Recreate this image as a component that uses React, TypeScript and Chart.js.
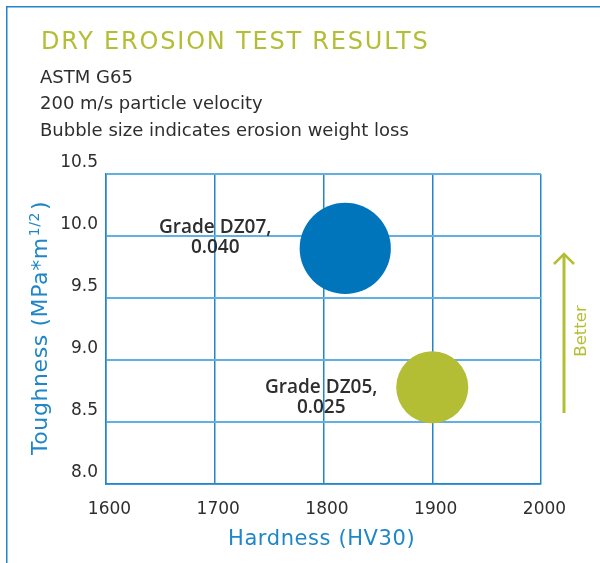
import React, { useEffect, useRef } from "react";
import { Chart, registerables } from "chart.js";

Chart.register(...registerables);

const TITLE = "DRY EROSION TEST RESULTS";
const SUBTITLES = ["ASTM G65", "200 m/s particle velocity", "Bubble size indicates erosion weight loss"];
const GRADES = ["Grade DZ07,", "Grade DZ05,"];
const HARDNESS = [1820, 1900];
const TOUGHNESS = [9.9, 8.78];
const WEIGHT_LOSS = [0.04, 0.025];
const X_TICKS = [1600, 1700, 1800, 1900, 2000];
const Y_TICKS = [8.0, 8.5, 9.0, 9.5, 10.0, 10.5];
const X_TITLE = "Hardness (HV30)";
const Y_TITLE = "Toughness (MPa*m";
const Y_TITLE_SUP = "1/2";
const Y_TITLE_END = ")";
const ARROW_LABEL = "Better";

const GREEN = "#b4be35";
const BLUE = "#0075bc";
const AXIS_BLUE = "#1f86c8";
const DARK = "#2e2e2e";
const GRID_V = "#2585cb";
const GRID_H = "#62b0e2";
const FONT = "'DejaVu Sans', sans-serif";

const BUBBLE_SCALE = 228;
const LABEL_PLACEMENT = [
  { dx: -130, dy: -15.5 },
  { dx: -111, dy: 5.5 },
];

const decorPlugin = {
  id: "decor",
  beforeDraw(chart: any) {
    const ctx = chart.ctx;
    ctx.save();
    ctx.fillStyle = "#2284cc";
    ctx.fillRect(6, 6, 1.5, chart.height - 6);
    ctx.fillRect(6, 6, chart.width - 6, 1.5);

    ctx.textAlign = "left";
    ctx.textBaseline = "alphabetic";
    ctx.fillStyle = GREEN;
    ctx.font = `24px ${FONT}`;
    (ctx as any).letterSpacing = "1.8px";
    ctx.fillText(TITLE, 41, 49.3);
    (ctx as any).letterSpacing = "0px";

    ctx.fillStyle = DARK;
    ctx.font = `18px ${FONT}`;
    SUBTITLES.forEach((s, i) => ctx.fillText(s, 40, 82.5 + i * 26.5));

    // x title
    ctx.fillStyle = AXIS_BLUE;
    ctx.font = `21px ${FONT}`;
    (ctx as any).letterSpacing = "0.6px";
    ctx.fillText(X_TITLE, 228, 545);

    // y title
    ctx.save();
    ctx.translate(46.7, 455);
    ctx.rotate(-Math.PI / 2);
    ctx.font = `22px ${FONT}`;
    ctx.fillText(Y_TITLE, 0, 0);
    const w1 = ctx.measureText(Y_TITLE).width;
    ctx.font = `14px ${FONT}`;
    ctx.fillText(Y_TITLE_SUP, w1 + 1, -8);
    const w2 = ctx.measureText(Y_TITLE_SUP).width;
    ctx.font = `22px ${FONT}`;
    ctx.fillText(Y_TITLE_END, w1 + w2 + 3, 0);
    ctx.restore();
    (ctx as any).letterSpacing = "0px";

    // better arrow
    ctx.strokeStyle = GREEN;
    ctx.lineWidth = 3;
    ctx.beginPath();
    ctx.moveTo(564, 413);
    ctx.lineTo(564, 254);
    ctx.stroke();
    ctx.lineWidth = 2.5;
    ctx.beginPath();
    ctx.moveTo(554, 264);
    ctx.lineTo(564, 254);
    ctx.lineTo(574, 264);
    ctx.stroke();
    ctx.save();
    ctx.translate(586, 331);
    ctx.rotate(-Math.PI / 2);
    ctx.textAlign = "center";
    ctx.fillStyle = GREEN;
    ctx.font = `16.5px ${FONT}`;
    ctx.fillText(ARROW_LABEL, 0, 0);
    ctx.restore();
    ctx.restore();
  },
  afterDatasetsDraw(chart: any) {
    const ctx = chart.ctx;
    const meta = chart.getDatasetMeta(0);
    ctx.save();
    ctx.fillStyle = DARK;
    ctx.textAlign = "center";
    ctx.textBaseline = "alphabetic";
    ctx.font = `600 19px 'Open Sans', sans-serif`;
    meta.data.forEach((el: any, i: number) => {
      const p = LABEL_PLACEMENT[i];
      const x = el.x + p.dx;
      const y = el.y + p.dy;
      ctx.fillText(GRADES[i], x, y);
      ctx.fillText(WEIGHT_LOSS[i].toFixed(3), x, y + 20.5);
    });
    ctx.restore();
  },
};

export default function App() {
  const ref = useRef<HTMLCanvasElement | null>(null);
  useEffect(() => {
    if (!ref.current) return;
    const chart = new Chart(ref.current, {
      type: "bubble",
      data: {
        datasets: [
          {
            label: "Erosion",
            data: HARDNESS.map((h, i) => ({
              x: h,
              y: TOUGHNESS[i],
              r: Math.sqrt(WEIGHT_LOSS[i]) * BUBBLE_SCALE,
            })),
            backgroundColor: [BLUE, GREEN],
            borderWidth: 0,
            hoverBorderWidth: 0,
          },
        ],
      },
      options: {
        animation: false,
        responsive: false,
        maintainAspectRatio: false,
        layout: { padding: { top: 174, right: 59, bottom: 0, left: 0 } },
        plugins: { legend: { display: false }, tooltip: { enabled: false } },
        scales: {
          x: {
            type: "linear",
            min: X_TICKS[0],
            max: X_TICKS[X_TICKS.length - 1],
            afterBuildTicks: (s: any) => {
              s.ticks = X_TICKS.map((v) => ({ value: v }));
            },
            afterFit: (s: any) => {
              s.height = 79;
            },
            grid: { color: GRID_V, lineWidth: 1.5, drawTicks: false },
            border: { color: GRID_V, width: 1.5 },
            ticks: {
              color: DARK,
              font: { family: FONT, size: 17 },
              padding: 15,
              labelOffset: 3.5,
              maxRotation: 0,
              callback: (v: any) => String(v),
            },
          },
          y: {
            type: "linear",
            min: Y_TICKS[0],
            max: Y_TICKS[Y_TICKS.length - 1],
            afterBuildTicks: (s: any) => {
              s.ticks = Y_TICKS.map((v) => ({ value: v }));
            },
            afterFit: (s: any) => {
              s.width = 106;
            },
            grid: { color: GRID_H, lineWidth: 2, drawTicks: false },
            border: { color: GRID_V, width: 1.5 },
            ticks: {
              color: DARK,
              font: { family: FONT, size: 17 },
              padding: 8,
              labelOffset: -11.5,
              callback: (v: any) => Number(v).toFixed(1),
            },
          },
        },
      },
      plugins: [decorPlugin],
    });
    return () => chart.destroy();
  }, []);
  return (
    <div style={{ position: "fixed", left: 0, top: 0, width: 600, height: 563, background: "#fff" }}>
      <canvas ref={ref} width={600} height={563} style={{ width: 600, height: 563, display: "block" }} />
    </div>
  );
}
